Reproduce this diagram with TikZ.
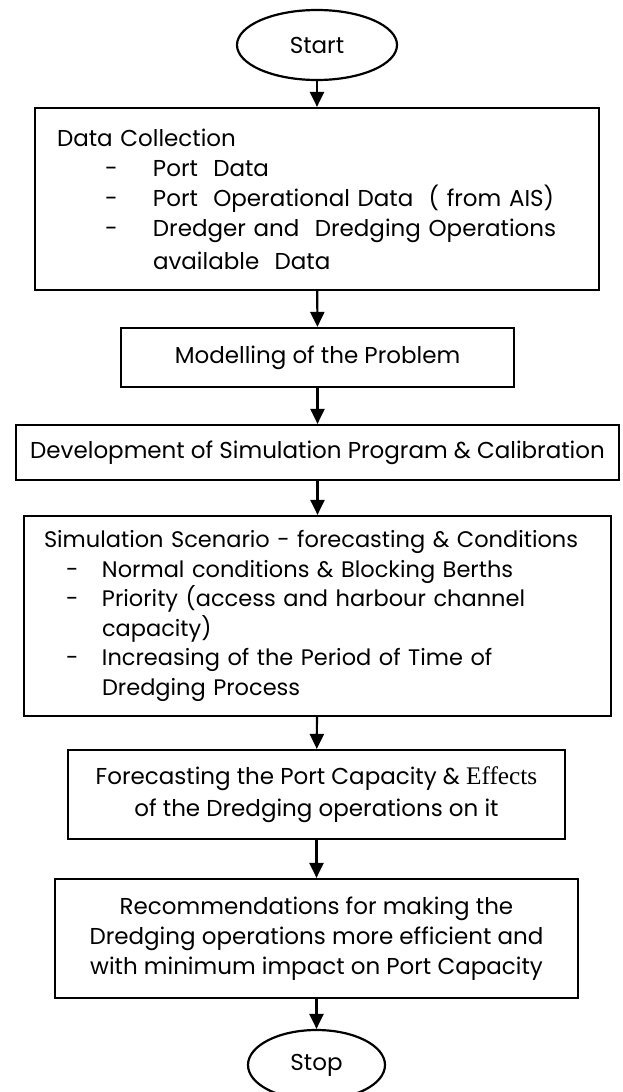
\documentclass[tikz,border=0pt]{standalone}
\usepackage{fontspec}
\setmainfont{Poppins}
\newfontfamily\serifface{Liberation Serif}[Scale=1.1]
\usetikzlibrary{shapes.geometric,arrows.meta}

\newcommand{\dashitem}[3]{\hspace*{#1}\makebox[#2][l]{-}#3}
\newcommand{\serifword}[1]{{\serifface #1}}

\begin{document}
\begin{tikzpicture}[x=1pt,y=-1pt,line width=2.2pt,>={Triangle[length=15pt,width=14pt]},
  box/.style={draw,rectangle,inner sep=0pt,font=\fontsize{23}{30}\selectfont},
  term/.style={draw,ellipse,inner sep=0pt,font=\fontsize{23}{30}\selectfont}]
  \useasboundingbox (0,0) rectangle (623,1092);
  \node[term,minimum width=160pt,minimum height=70pt] (start) at (317,45) {Start};
  \node[box,minimum width=564pt,minimum height=182pt,text width=520pt,align=left] (collect) at (317,199)
    {Data Collection\\
     \dashitem{48pt}{48pt}{Port\ \ Data}\\
     \dashitem{48pt}{48pt}{Port\ \ Operational Data\ \ ( from AIS)}\\
     \dashitem{48pt}{48pt}{Dredger and\ \ Dredging Operations}\\[3pt]
     \hspace*{96pt}available\ \ Data};
  \node[box,minimum width=393pt,minimum height=59pt] (model) at (317.5,357.5) {Modelling of the Problem};
  \node[box,minimum width=603pt,minimum height=55pt] (develop) at (317.5,452.5) {Development of Simulation Program \& Calibration};
  \node[box,minimum width=587pt,minimum height=200pt,text width=547pt,align=left,font=\fontsize{22.5}{29.5}\selectfont] (scenario) at (317.5,616)
    {Simulation Scenario - forecasting \& Conditions\\
     \dashitem{22pt}{36pt}{Normal conditions \& Blocking Berths}\\
     \dashitem{22pt}{36pt}{Priority (access and harbour channel}\\
     \hspace*{58pt}capacity)\\
     \dashitem{22pt}{36pt}{Increasing of the Period of Time of}\\
     \hspace*{58pt}Dredging Process};
  \node[box,minimum width=497pt,minimum height=89pt,align=center,font=\fontsize{23}{32}\selectfont] (forecast) at (316.5,794.5)
    {Forecasting the Port Capacity \& \serifword{Effects}\\ of the Dredging operations on it};
  \node[box,minimum width=523pt,minimum height=119pt,align=center] (recommend) at (316.5,938.5)
    {Recommendations for making the\\ Dredging operations more efficient and\\ with minimum impact on Port Capacity};
  \node[term,minimum width=137pt,minimum height=70pt] (stop) at (316.5,1065) {Stop};
  \draw[->] (start) -- (collect);
  \draw[->] (collect) -- (model);
  \draw[->] (model) -- (develop);
  \draw[->] (develop) -- (scenario);
  \draw[->] (scenario) -- (forecast);
  \draw[->] (forecast) -- (recommend);
  \draw[->] (recommend) -- (stop);
\end{tikzpicture}
\end{document}
